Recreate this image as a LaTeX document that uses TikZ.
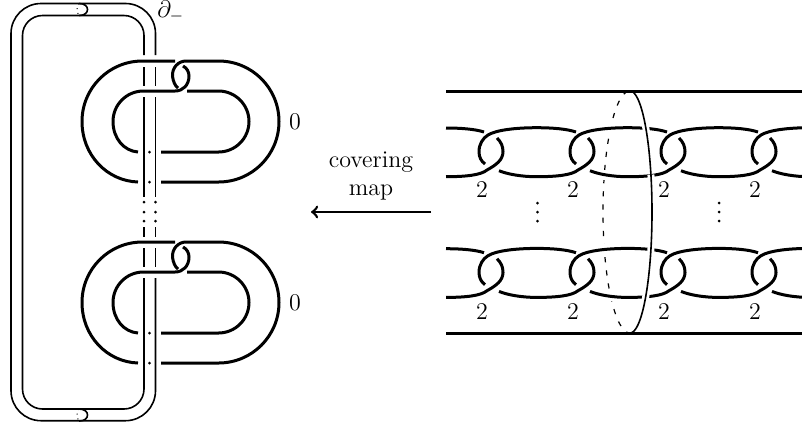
\documentclass[tikz,border=0pt]{standalone}
\tikzset{
    band/.style={line width=0.8pt},
    link/.style={line width=1.5pt},
    rail/.style={line width=1.5pt},
    halo/.style={white,line width=3.5pt},
    tick/.style={fill=black,draw=none},
    hiddenarc/.style={line width=0.6pt,dash pattern=on 2.6pt off 4pt},
    every node/.style={font=\large}
}
\begin{document}
\begin{tikzpicture}[x=0.5pt,y=-0.5pt]
    \useasboundingbox (0,0) rectangle (802,425);
    % band around the two clasps
    \draw[band,rounded corners=15pt] (155.5,55) -- (155.5,3.5) -- (11,3.5) -- (11,420.7) -- (155.5,420.7) -- (155.5,278);
    \draw[band,rounded corners=10pt] (144,55) -- (144,15.5) -- (22.5,15.5) -- (22.5,409) -- (144,409) -- (144,278);
    \foreach \x in {144,155.5} {
        \foreach \y/\yy in {67/86,97/197,227/237,248/267}
            \draw[band] (\x,\y) -- (\x,\yy);
        \foreach \y in {202,212,221}
            \fill[tick] (\x,\y) circle (0.75pt);
    }
    \foreach \y in {3.5,409} {
        \draw[band] (79,\y) .. controls (85,\y) and (87.5,\y+3) .. (87.5,\y+6) .. controls (87.5,\y+9) and (85,\y+12) .. (79,\y+12);
        \draw[band,line width=0.5pt,dotted] (79,\y) .. controls (76,\y+2) and (77,\y+10) .. (79,\y+12);
    }
    % the two clasps
    \foreach \dy in {0,181} {
        \begin{scope}[yshift=-\dy*0.5pt]
            \draw[link] (138,182) .. controls (107,181) and (82,155) .. (82,121.5) .. controls (82,88) and (109,61) .. (142.5,61) -- (175,61);
            \draw[link] (138,152) .. controls (124,151) and (113,138.4) .. (113,121.5) .. controls (113,104.6) and (126.6,91) .. (143.5,91) -- (175,91) .. controls (183,91) and (189,85) .. (189,76) .. controls (189,72) and (187,68) .. (183,66);
            \draw[link] (178,88) .. controls (175,86) and (173,81) .. (172.5,76) .. controls (172,68) and (178,61) .. (186,61) -- (218.5,61) .. controls (252,61) and (279,88) .. (279,121.5) .. controls (279,155) and (252,182) .. (218.5,182) -- (161,182);
            \draw[link] (187,91) -- (218.5,91) .. controls (235.3,91) and (249,104.7) .. (249,121.5) .. controls (249,138.3) and (235.3,152) .. (218.5,152) -- (161,152);
            \fill[tick] (149.5,152) circle (0.75pt);
            \fill[tick] (149.5,182) circle (0.75pt);
        \end{scope}
    }
    \node (zeroa) at (295,122) {$0$};
    \node (zerob) at (295,303) {$0$};
    \node[anchor=base west,inner sep=0pt] (bdry) at (157,17) {$\partial_-$};
    % arrow
    \node[align=center] (covlabel) at (371,175.5) {covering\\map};
    \coordinate (arrowtail) at (431,212);
    \coordinate (arrowhead) at (311,212);
    \draw[->,line width=1.3pt] (arrowtail) -- (arrowhead);
    % hidden half of the disc, under the chains
    \draw[hiddenarc] plot[domain=-86:90,samples=60,smooth] ({630-27*cos(\x)},{212+121*sin(\x)});
    \foreach \y/\yy in {123/135,170/180,244/254,291/301}
        \fill[white] (598,\y) rectangle (626,\yy);
    % chains
    \foreach \dy in {0,120.7} {
        \begin{scope}[yshift=-\dy*0.5pt]
            \draw[link] (446,128) .. controls (460,128) and (475,129) .. (484,132);
            \draw[link] (446,176.7) .. controls (466,176.7) and (481,175) .. (487,170) .. controls (496,165) and (503,160) .. (503,151.7) .. controls (503,146) and (501,142) .. (497,138);
            \foreach \c in {491,582,673,764} {
                \draw[link] (\c-6,164) .. controls (\c-10,161) and (\c-12,157) .. (\c-12,151.7) .. controls (\c-12,144) and (\c-8,138) .. (\c-3,135) .. controls (\c+5,130) and (\c+25,127.7) .. (\c+45.5,127.7) \ifnum\c<764 .. controls (\c+62,127.7) and (\c+76,129) .. (\c+85,132) \else -- (802,127.7) \fi;
                \draw[link] (\c+8,170.7) .. controls (\c+16,174) and (\c+30,176.7) .. (\c+45.5,176.7) \ifnum\c<764 .. controls (\c+66,176.7) and (\c+81,175) .. (\c+87,170) .. controls (\c+96,165) and (\c+103,160) .. (\c+103,151.7) .. controls (\c+103,146) and (\c+101,142) .. (\c+97,138) \else -- (802,176.7) \fi;
            }
        \end{scope}
    }
    % visible half of the disc
    \foreach \a/\b in {-50/-38,-18/-6,12/24,38/50}
        \draw[halo] plot[domain=\a:\b,samples=5] ({630+22*cos(\x)},{212+121*sin(\x)});
    \draw[band] plot[domain=-90:90,samples=60,smooth] ({630+22*cos(\x)},{212+121*sin(\x)});
    \draw[rail] (446,91) -- (802,91);
    \draw[rail] (446,333.3) -- (802,333.3);
    \foreach \x in {482,573,664,755} {
        \node at (\x,190) {$2$};
        \node at (\x,312) {$2$};
    }
    \foreach \x in {537.5,719} {
        \foreach \y in {203,212,221}
            \fill[tick] (\x,\y) circle (0.75pt);
    }
\end{tikzpicture}
\end{document}
